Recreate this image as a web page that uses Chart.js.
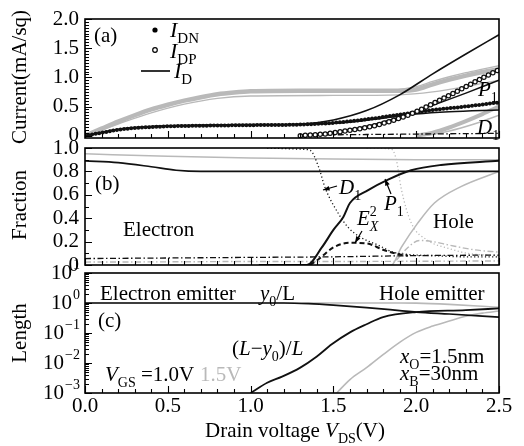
<!DOCTYPE html>
<html>
<head>
<meta charset="utf-8">
<script src="https://cdn.jsdelivr.net/npm/chart.js@4.4.1/dist/chart.umd.min.js"></script>
<style>
  html, body { margin: 0; padding: 0; background: #fff; }
  #wrap { position: relative; width: 524px; height: 446px; }
  #wrap canvas { position: absolute; left: 0; top: 0; }
</style>
</head>
<body>
<div id="wrap">
  <canvas id="chartA" width="524" height="446"></canvas>
  <canvas id="chartB" width="524" height="446"></canvas>
  <canvas id="chartC" width="524" height="446"></canvas>
</div>
<script>
// shared drain-voltage axis
const X_TICKS = [0, 0.5, 1.0, 1.5, 2.0, 2.5];

// (a) sheet currents in mA/sq; black = VGS 1.0 V, grey = VGS 1.5 V
const A_TICKS = [0, 0.5, 1.0, 1.5, 2.0];
const vId10 = [0, 0.1, 0.2, 0.3, 0.5, 0.7, 1.0, 1.3, 1.5, 1.7, 1.9, 2.1, 2.3, 2.5];
const id10 = [0, 0.06, 0.11, 0.14, 0.17, 0.18, 0.19, 0.2, 0.27, 0.43, 0.7, 1.06, 1.4, 1.73];
const vIdn10 = [0, 0.1, 0.2, 0.3, 0.5, 0.7, 1.0, 1.3, 1.5, 1.7, 1.9, 2.1, 2.3, 2.5];
const idn10 = [0, 0.05, 0.1, 0.13, 0.16, 0.17, 0.18, 0.19, 0.22, 0.28, 0.36, 0.44, 0.5, 0.57];
const vIdp10 = [1.3, 1.45, 1.55, 1.7, 1.8, 1.9, 2.0, 2.1, 2.2, 2.3, 2.4, 2.5];
const idp10 = [0, 0.03, 0.07, 0.14, 0.21, 0.3, 0.41, 0.55, 0.69, 0.84, 0.99, 1.13];
const vP1a10 = [1.3, 1.5, 1.7, 1.9, 2.1, 2.3, 2.5];
const p1a10 = [0, 0.05, 0.16, 0.32, 0.52, 0.73, 0.95];
const vN1a10 = [1.4, 1.6, 1.8, 2.0, 2.2, 2.5];
const n1a10 = [0.2, 0.23, 0.3, 0.37, 0.41, 0.44];
const vD1a10 = [1.3, 1.7, 2.1, 2.5];
const d1a10 = [0.01, 0.02, 0.03, 0.04];
const vIdn15 = [0, 0.1, 0.2, 0.3, 0.4, 0.5, 0.6, 0.7, 0.8, 0.9, 1.0, 1.3, 1.6, 1.9, 2.0, 2.1, 2.2, 2.3, 2.4, 2.5];
const idn15 = [0, 0.12, 0.24, 0.35, 0.45, 0.53, 0.6, 0.66, 0.71, 0.74, 0.76, 0.77, 0.77, 0.77, 0.79, 0.88, 0.96, 1.03, 1.09, 1.14];
const vId15 = [0, 0.2, 0.4, 0.6, 0.8, 1.0, 1.5, 1.9, 2.1, 2.3, 2.5];
const id15 = [0, 0.2, 0.39, 0.54, 0.64, 0.68, 0.69, 0.7, 0.75, 0.84, 0.95];
const vP1a15 = [1.85, 2.0, 2.1, 2.2, 2.3, 2.4, 2.5];
const p1a15 = [0.77, 0.84, 0.93, 1.01, 1.08, 1.14, 1.2];
const vIdp15 = [2.0, 2.1, 2.2, 2.3, 2.4, 2.5];
const idp15 = [0, 0.05, 0.14, 0.25, 0.37, 0.5];
const vD1a15 = [2.05, 2.2, 2.35, 2.5];
const d1a15 = [0, 0.08, 0.2, 0.35];

// (b) current fractions
const B_TICKS = [0, 0.2, 0.4, 0.6, 0.8, 1.0];
const vElec10 = [0, 0.2, 0.4, 0.55, 0.7, 1.5, 2.5];
const elec10 = [0.89, 0.875, 0.84, 0.81, 0.8, 0.8, 0.8];
const vElec15 = [0, 0.5, 1.0, 1.5, 2.0, 2.5];
const elec15 = [0.95, 0.93, 0.915, 0.905, 0.9, 0.9];
const vP1b10 = [1.05, 1.34, 1.43, 1.5, 1.56, 1.6, 1.71, 1.83, 1.97, 2.15, 2.5];
const p1b10 = [0, 0, 0.15, 0.3, 0.41, 0.53, 0.64, 0.73, 0.81, 0.855, 0.89];
const vD1b10 = [1.1, 1.3, 1.36, 1.41, 1.45, 1.53, 1.59, 1.66, 1.77, 1.86, 1.95, 2.1, 2.3, 2.5];
const d1b10 = [1.0, 0.99, 0.98, 0.84, 0.66, 0.44, 0.32, 0.24, 0.17, 0.11, 0.09, 0.08, 0.07, 0.07];
const vEx10 = [1.36, 1.42, 1.5, 1.6, 1.7, 1.8, 1.9, 1.95];
const ex10 = [0, 0.06, 0.15, 0.19, 0.185, 0.13, 0.09, 0.08];
const vRest10 = [0, 0.5, 1.0, 1.5, 2.0, 2.5];
const rest10 = [0.055, 0.06, 0.065, 0.07, 0.08, 0.085];
const vRest15 = [0, 0.5, 1.0, 1.5, 2.0, 2.5];
const rest15 = [0.025, 0.027, 0.03, 0.03, 0.032, 0.035];
const vP1b15 = [1.8, 1.85, 1.91, 2.01, 2.11, 2.27, 2.5];
const p1b15 = [0, 0, 0.15, 0.36, 0.53, 0.67, 0.8];
const vD1b15 = [1.7, 1.85, 1.88, 1.91, 1.97, 2.07, 2.2, 2.31, 2.5];
const d1b15 = [1.0, 0.99, 0.9, 0.65, 0.36, 0.21, 0.14, 0.1, 0.08];
const vEx15 = [1.88, 1.95, 2.02, 2.1, 2.2, 2.35, 2.5];
const ex15 = [0.04, 0.15, 0.21, 0.2, 0.17, 0.13, 0.11];

// (c) normalised lengths, log scale
const C_DECADES = [-3, -2, -1, 0, 1];
const vY0_10 = [0, 1.0, 1.2, 1.35, 1.5, 1.7, 1.9, 2.0, 2.2, 2.5];
const y0_10 = [1, 1, 1, 0.95, 0.85, 0.7, 0.56, 0.5, 0.43, 0.34];
const vLy0_10 = [1.0, 1.1, 1.19, 1.3, 1.4, 1.49, 1.6, 1.7, 1.8, 2.0, 2.3, 2.5];
const ly0_10 = [0.001, 0.0022, 0.0035, 0.007, 0.0165, 0.042, 0.105, 0.196, 0.34, 0.5, 0.58, 0.66];
const vY0_15 = [0, 1.0, 1.9, 2.0, 2.2, 2.4, 2.5];
const y0_15 = [1, 1, 1, 0.99, 0.9, 0.78, 0.72];
const vLy0_15 = [1.52, 1.6, 1.7, 1.8, 1.9, 2.0, 2.1, 2.2, 2.3, 2.4, 2.5];
const ly0_15 = [0.001, 0.0028, 0.007, 0.019, 0.049, 0.105, 0.17, 0.25, 0.36, 0.46, 0.54];

const SERIF = '"Liberation Serif", "Times New Roman", serif';
const INK = '#111';
const GREY = '#b9b9b9';
const W = 524, H = 446;

function pts(xs, ys) { return xs.map((x, i) => ({ x: x, y: ys[i] })); }

function series(xs, ys, color, width, dash, order, extra) {
  return Object.assign({
    data: pts(xs, ys),
    borderColor: color,
    borderWidth: width,
    borderDash: dash || [],
    pointRadius: 0,
    fill: false,
    cubicInterpolationMode: 'monotone',
    order: order
  }, extra || {});
}

const DOTS = { borderCapStyle: 'round' };
const DASHDOT = [6, 2.5, 1.5, 2.5];
const DOTTED = [1.2, 2.4];

// text with italic / subscript / superscript pieces: [text, flags]
// flags: i = italic, b = subscript, p = superscript, n = do not advance
function rich(ctx, x, y, pieces, size, color) {
  ctx.save();
  ctx.fillStyle = color || '#000';
  ctx.textAlign = 'left';
  ctx.textBaseline = 'alphabetic';
  let cx = x;
  pieces.forEach(([t, f]) => {
    f = f || '';
    const small = f.includes('b') || f.includes('p');
    const fs = small ? Math.round(size * 0.68) : size;
    ctx.font = (f.includes('i') ? 'italic ' : '') + fs + 'px ' + SERIF;
    const dy = f.includes('b') ? size * 0.28 : f.includes('p') ? -size * 0.45 : 0;
    ctx.fillText(t, cx, y + dy);
    if (!f.includes('n')) cx += ctx.measureText(t).width;
  });
  ctx.restore();
}

function vtitle(ctx, text, x, y) {
  ctx.save();
  ctx.translate(x, y);
  ctx.rotate(-Math.PI / 2);
  ctx.font = '21px ' + SERIF;
  ctx.fillStyle = '#000';
  ctx.textAlign = 'center';
  ctx.textBaseline = 'middle';
  ctx.fillText(text, 0, 0);
  ctx.restore();
}

function arrow(ctx, x1, y1, x2, y2) {
  const ang = Math.atan2(y2 - y1, x2 - x1), h = 7;
  ctx.save();
  ctx.strokeStyle = '#000';
  ctx.fillStyle = '#000';
  ctx.lineWidth = 1.2;
  ctx.beginPath(); ctx.moveTo(x1, y1); ctx.lineTo(x2, y2); ctx.stroke();
  ctx.beginPath();
  ctx.moveTo(x2, y2);
  ctx.lineTo(x2 - h * Math.cos(ang - 0.35), y2 - h * Math.sin(ang - 0.35));
  ctx.lineTo(x2 - h * Math.cos(ang + 0.35), y2 - h * Math.sin(ang + 0.35));
  ctx.closePath(); ctx.fill();
  ctx.restore();
}

// box around the plot and inward tick marks
function frame(chart, yMarks) {
  const { ctx, chartArea: a, scales } = chart;
  ctx.save();
  ctx.strokeStyle = '#000';
  ctx.lineWidth = 1.1;
  ctx.beginPath();
  for (let k = 0; k <= 25; k++) {
    const px = Math.round(scales.x.getPixelForValue(k / 10)) + 0.5;
    const len = k % 5 === 0 ? 7 : 4;
    ctx.moveTo(px, a.bottom); ctx.lineTo(px, a.bottom - len);
  }
  yMarks.forEach(([v, len]) => {
    const py = Math.round(scales.y.getPixelForValue(v)) + 0.5;
    ctx.moveTo(a.left, py); ctx.lineTo(a.left + len, py);
  });
  ctx.stroke();
  ctx.lineWidth = 1.6;
  ctx.strokeRect(a.left, a.top, a.right - a.left, a.bottom - a.top);
  ctx.restore();
}

function panelChart(id, area, yScale, datasets, decorate, showX) {
  const x = {
    type: 'linear', min: 0, max: 2.5, display: showX,
    grid: { display: false, drawTicks: false }, border: { display: false },
    afterBuildTicks: s => { s.ticks = X_TICKS.map(v => ({ value: v })); },
    ticks: { color: '#000', font: { family: SERIF, size: 21 }, padding: 1,
             maxRotation: 0, autoSkip: false, callback: v => v.toFixed(1) }
  };
  if (showX) x.afterFit = s => { s.height = H - area.bottom; };
  return new Chart(document.getElementById(id), {
    type: 'line',
    data: { datasets: datasets },
    options: {
      responsive: false,
      animation: false,
      events: [],
      layout: { padding: { left: 0, right: W - area.right, top: area.top, bottom: showX ? 0 : H - area.bottom } },
      plugins: { legend: { display: false }, tooltip: { enabled: false } },
      scales: {
        x: x,
        y: Object.assign({
          grid: { display: false, drawTicks: false }, border: { display: false },
          afterFit: s => { s.width = area.left; }
        }, yScale)
      }
    },
    plugins: [{ id: 'deco_' + id, afterDatasetsDraw: chart => decorate(chart) }]
  });
}

const tickFont = { family: SERIF, size: 21 };
const fracLabel = v => v === 0 ? '0' : v.toFixed(1);

// ---------- (a) ----------
panelChart('chartA', { left: 85, right: 499, top: 19, bottom: 138 }, {
  type: 'linear', min: -0.04, max: 2.0,
  afterBuildTicks: s => { s.ticks = A_TICKS.map(v => ({ value: v })); },
  ticks: { color: '#000', font: tickFont, padding: 6, autoSkip: false, callback: fracLabel }
}, [
  series(vIdn15, idn15, GREY, 4.5, [], 20),
  series(vId15, id15, GREY, 1.4, [], 19),
  series(vP1a15, p1a15, GREY, 1.4, [], 19),
  series(vIdp15, idp15, GREY, 4, [], 18),
  series(vD1a15, d1a15, GREY, 1.4, [], 18),
  series(vD1a10, d1a10, INK, 1.3, DASHDOT, 12),
  series(vN1a10, n1a10, INK, 1.5, [], 10),
  series(vP1a10, p1a10, INK, 1.5, [], 10),
  series(vId10, id10, INK, 1.6, [], 9),
  series(vIdn10, idn10, INK, 4, [0, 3.6], 8, DOTS),
  series(vIdp10, idp10, INK, 5.5, [0, 5], 3, DOTS),
  series(vIdp10, idp10, '#fff', 3, [0, 5], 2, DOTS)
], chart => {
  const ctx = chart.ctx;
  const yTicks = [];
  for (let k = 0; k <= 40; k++) yTicks.push([k * 0.05, k % 10 === 0 ? 7 : 4]);
  frame(chart, yTicks);
  vtitle(ctx, 'Current(mA/sq)', 20, 77);
  rich(ctx, 94, 42, [['(a)']], 21);
  // legend
  ctx.save();
  ctx.fillStyle = '#000';
  ctx.beginPath(); ctx.arc(155, 30, 2.6, 0, Math.PI * 2); ctx.fill();
  ctx.strokeStyle = '#000'; ctx.lineWidth = 1.2;
  ctx.beginPath(); ctx.arc(155, 50, 2.3, 0, Math.PI * 2); ctx.stroke();
  ctx.lineWidth = 1.6;
  ctx.beginPath(); ctx.moveTo(141, 71); ctx.lineTo(170, 71); ctx.stroke();
  ctx.restore();
  rich(ctx, 170, 37, [['I', 'i'], ['DN', 'b']], 22);
  rich(ctx, 170, 58, [['I', 'i'], ['DP', 'b']], 22);
  rich(ctx, 174, 78, [['I', 'i'], ['D', 'b']], 22);
  rich(ctx, 478, 96, [['P', 'i'], ['1', 'b']], 21);
  rich(ctx, 477, 134, [['D', 'i'], ['1', 'b']], 21);
}, false);

// ---------- (b) ----------
panelChart('chartB', { left: 85, right: 499, top: 148, bottom: 265 }, {
  type: 'linear', min: 0, max: 1.0,
  afterBuildTicks: s => { s.ticks = B_TICKS.map(v => ({ value: v })); },
  ticks: { color: '#000', font: tickFont, padding: 6, autoSkip: false, callback: fracLabel }
}, [
  series(vElec15, elec15, GREY, 1.5, [], 20),
  series(vP1b15, p1b15, GREY, 1.6, [], 20),
  series(vD1b15, d1b15, GREY, 1.3, DOTTED, 20),
  series(vEx15, ex15, GREY, 1.4, DASHDOT, 20),
  series(vRest15, rest15, GREY, 1.4, DASHDOT, 19),
  series(vRest10, rest10, INK, 1.3, DASHDOT, 12),
  series(vD1b10, d1b10, INK, 1.3, DOTTED, 11),
  series(vEx10, ex10, INK, 2, [5, 3], 10),
  series(vElec10, elec10, INK, 1.7, [], 9),
  series(vP1b10, p1b10, INK, 2, [], 8)
], chart => {
  const ctx = chart.ctx;
  const yTicks = [];
  for (let k = 0; k <= 10; k++) yTicks.push([k * 0.1, k % 2 === 0 ? 7 : 4]);
  frame(chart, yTicks);
  vtitle(ctx, 'Fraction', 20, 205);
  rich(ctx, 95, 190, [['(b)']], 21);
  rich(ctx, 123, 236, [['Electron']], 21);
  rich(ctx, 433, 228, [['Hole']], 21);
  rich(ctx, 339, 194, [['D', 'i'], ['1', 'b']], 21);
  arrow(ctx, 337, 186, 323, 190);
  rich(ctx, 384, 210, [['P', 'i'], ['1', 'b']], 21);
  arrow(ctx, 391, 194, 385, 179);
  rich(ctx, 357, 225, [['E', 'i'], ['2', 'pn'], ['X', 'ib']], 21);
  arrow(ctx, 362, 231, 355, 243);
}, false);

// ---------- (c) ----------
panelChart('chartC', { left: 85, right: 499, top: 273, bottom: 393 }, {
  type: 'logarithmic', min: 1e-3, max: 10,
  afterBuildTicks: s => { s.ticks = C_DECADES.map(d => ({ value: Math.pow(10, d) })); },
  ticks: { display: false }
}, [
  series(vY0_15, y0_15, GREY, 1.6, [], 20),
  series(vLy0_15, ly0_15, GREY, 1.6, [], 20),
  series(vY0_10, y0_10, INK, 1.7, [], 9),
  series(vLy0_10, ly0_10, INK, 1.8, [], 8)
], chart => {
  const ctx = chart.ctx;
  const ys = chart.scales.y;
  const yTicks = [];
  for (let d = -3; d < 1; d++) {
    for (let m = 1; m <= 9; m++) yTicks.push([m * Math.pow(10, d), m === 1 ? 7 : 4]);
  }
  yTicks.push([10, 7]);
  frame(chart, yTicks);
  // decade labels 10^n
  ctx.save();
  ctx.fillStyle = '#000';
  ctx.textBaseline = 'middle';
  ctx.textAlign = 'right';
  C_DECADES.forEach(d => {
    const py = ys.getPixelForValue(Math.pow(10, d));
    const ex = d < 0 ? '\u2212' + (-d) : String(d);
    ctx.font = '14px ' + SERIF;
    const ew = ctx.measureText(ex).width;
    ctx.fillText(ex, 80, py - 8);
    ctx.font = '21px ' + SERIF;
    ctx.fillText('10', 80 - ew - 1, py);
  });
  ctx.restore();
  vtitle(ctx, 'Length', 20, 333);
  rich(ctx, 100, 300, [['Electron emitter']], 21);
  rich(ctx, 260, 300, [['y', 'i'], ['0', 'b'], ['/L']], 21);
  rich(ctx, 379, 300, [['Hole emitter']], 21);
  rich(ctx, 98, 327, [['(c)']], 21);
  rich(ctx, 232, 355, [['('], ['L', 'i'], ['\u2212'], ['y', 'i'], ['0', 'b'], [')/'], ['L', 'i']], 21);
  rich(ctx, 105, 381, [['V', 'i'], ['GS', 'b'], [' =1.0V']], 21);
  rich(ctx, 200, 381, [['1.5V']], 21, GREY);
  rich(ctx, 400, 363, [['x', 'i'], ['O', 'b'], ['=1.5nm']], 21);
  rich(ctx, 400, 380, [['x', 'i'], ['B', 'b'], ['=30nm']], 21);
  rich(ctx, 205, 437, [['Drain voltage '], ['V', 'i'], ['DS', 'b'], ['(V)']], 21);
}, true);
</script>
</body>
</html>
